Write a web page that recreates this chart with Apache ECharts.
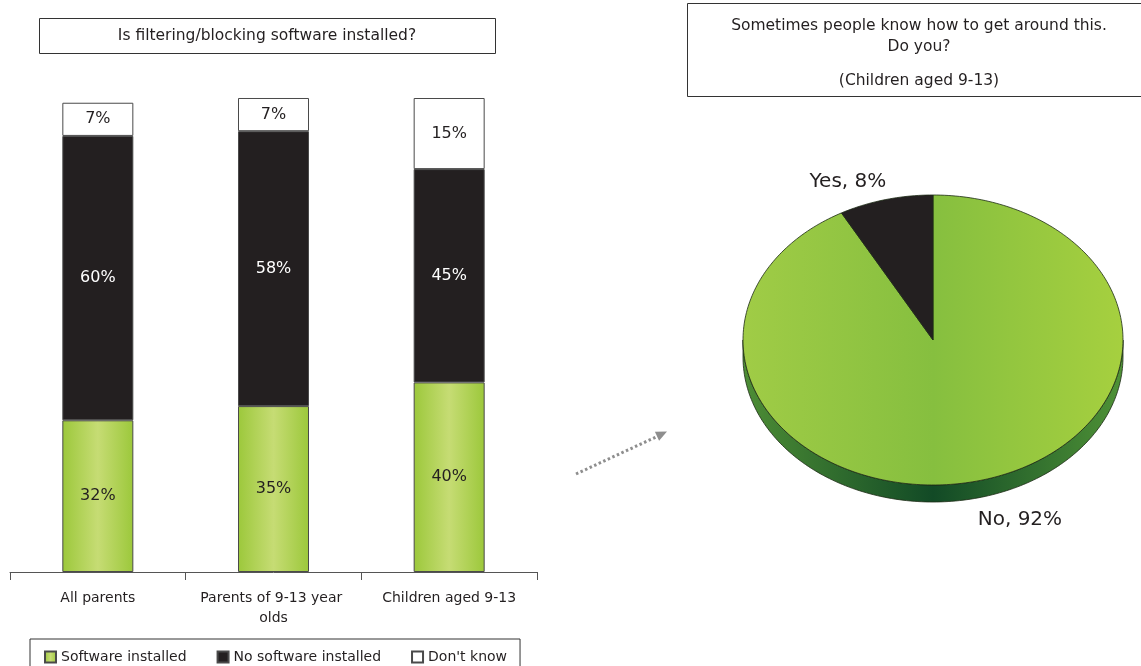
<!DOCTYPE html>
<html>
<head>
<meta charset="utf-8">
<script src="https://cdn.jsdelivr.net/npm/echarts@6/dist/echarts.min.js"></script>
<style>
  html, body { margin: 0; padding: 0; background: #fff; }
  #chart { width: 1141px; height: 666px; }
</style>
</head>
<body>
<div id="chart"></div>
<script>
// Stacked bars: filtering/blocking software
const categories = ['All parents', 'Parents of 9-13 year olds', 'Children aged 9-13'];
const seriesNames = ['Software installed', 'No software installed', "Don't know"];
const softwareInstalled = [32, 35, 40];
const noSoftware = [60, 58, 45];
const dontKnow = [7, 7, 15];

// Pie: getting around the filter (children aged 9-13)
const pieNames = ['No', 'Yes'];
const pieValues = [92, 8];

const FONT = 'DejaVu Sans';
const INK = '#231f20';

const chart = echarts.init(document.getElementById('chart'), null, { renderer: 'canvas' });

// Bar fill: horizontal green sheen
const barGreen = new echarts.graphic.LinearGradient(0, 0, 1, 0, [
  { offset: 0, color: '#9cc83b' },
  { offset: 0.5, color: '#c6dc74' },
  { offset: 1, color: '#9cc83b' }
]);

// Tilted pie geometry
const PIE = { cx: 933, cy: 340, rx: 190, ry: 145, depth: 17 };
const pieTotal = pieValues.reduce((a, b) => a + b, 0);
let running = 0;
const pieData = pieValues.map((v, i) => {
  const item = { name: pieNames[i], value: [v, running] };
  running += v;
  return item;
});

const faceGrad = new echarts.graphic.LinearGradient(PIE.cx - PIE.rx, 0, PIE.cx + PIE.rx, 0, [
  { offset: 0, color: '#a0cc46' },
  { offset: 0.5, color: '#86bf3f' },
  { offset: 1, color: '#a6d03f' }
], true);
const wallGrad = new echarts.graphic.LinearGradient(PIE.cx - PIE.rx, 0, PIE.cx + PIE.rx, 0, [
  { offset: 0, color: '#4d8d35' },
  { offset: 0.5, color: '#124a26' },
  { offset: 1, color: '#4f9236' }
], true);
const sliceFills = [faceGrad, '#231f20'];

function ellipsePt(a, dy) {
  return [PIE.cx + PIE.rx * Math.cos(a), PIE.cy + PIE.ry * Math.sin(a) + (dy || 0)];
}
function arcPts(a0, a1, dy) {
  const n = Math.max(2, Math.ceil(Math.abs(a1 - a0) / 0.02));
  const pts = [];
  for (let k = 0; k <= n; k++) pts.push(ellipsePt(a0 + (a1 - a0) * k / n, dy));
  return pts;
}

function renderSlice(params, api) {
  const v = api.value(0);
  const s = api.value(1);
  const a0 = -Math.PI / 2 + s / pieTotal * 2 * Math.PI;
  const a1 = a0 + v / pieTotal * 2 * Math.PI;
  const children = [];
  // outer wall, only where the rim faces the viewer
  [0, 2 * Math.PI].forEach(base => {
    const w0 = Math.max(a0, base), w1 = Math.min(a1, base + Math.PI);
    if (w1 > w0) {
      const pts = arcPts(w0, w1, 0).concat(arcPts(w1, w0, PIE.depth));
      children.push({
        type: 'polygon', shape: { points: pts },
        style: { fill: wallGrad, stroke: '#1d2b15', lineWidth: 0.8 }
      });
    }
  });
  // top face
  const face = [[PIE.cx, PIE.cy]].concat(arcPts(a0, a1, 0));
  children.push({
    type: 'polygon', shape: { points: face },
    style: { fill: sliceFills[params.dataIndex], stroke: '#1d2b15', lineWidth: 0.8 }
  });
  // outside label
  const m = (a0 + a1) / 2;
  const c = Math.cos(m), sn = Math.sin(m);
  const p = ellipsePt(m, sn > 0 ? PIE.depth : 0);
  children.push({
    type: 'text',
    x: p[0] + c * 10 + (c < 0 ? 3 : -5),
    y: p[1] + sn * 10 + (sn < 0 ? 2 : 3),
    style: {
      text: pieNames[params.dataIndex] + ', ' + v + '%',
      fontFamily: FONT, fontSize: 20, fill: INK,
      align: c < 0 ? 'right' : 'left',
      verticalAlign: sn < 0 ? 'bottom' : 'top'
    }
  });
  return { type: 'group', children };
}

function barSeries(name, data, fill, labelColor) {
  return {
    name, type: 'bar', stack: 'total', data,
    barWidth: 71,
    itemStyle: { color: fill, borderColor: '#4a4a4a', borderWidth: 1 },
    label: {
      show: true, position: 'inside', formatter: '{c}%',
      fontFamily: FONT, fontSize: 16, color: labelColor
    }
  };
}

const option = {
  animation: false,
  textStyle: { fontFamily: FONT },
  grid: { left: 10, right: 604, top: 98, bottom: 94 },
  xAxis: {
    type: 'category', data: categories,
    axisLine: { lineStyle: { color: '#555', width: 1 } },
    axisTick: { show: true, length: 8, lineStyle: { color: '#555' } },
    axisLabel: {
      interval: 0, margin: 16, fontSize: 14, color: INK, lineHeight: 20,
      width: 165, overflow: 'break', fontFamily: FONT
    }
  },
  yAxis: { type: 'value', min: 0, max: 100, show: false },
  legend: {
    data: seriesNames,
    left: 30, top: 639,
    padding: [11, 13, 13, 14],
    itemGap: 30, itemWidth: 11, itemHeight: 11,
    borderColor: '#333', borderWidth: 1,
    icon: 'rect',
    textStyle: { fontFamily: FONT, fontSize: 14, color: INK }
  },
  series: [
    barSeries(seriesNames[0], softwareInstalled, barGreen, INK),
    barSeries(seriesNames[1], noSoftware, '#231f20', '#ffffff'),
    barSeries(seriesNames[2], dontKnow, '#ffffff', INK),
    {
      type: 'custom', coordinateSystem: 'none', name: 'pie',
      data: pieData, renderItem: renderSlice, silent: true
    }
  ],
  graphic: [
    {
      type: 'rect', shape: { x: 39.5, y: 18.5, width: 456, height: 35 },
      style: { fill: '#fff', stroke: '#333', lineWidth: 1 }
    },
    {
      type: 'text', x: 267, y: 36,
      style: { text: 'Is filtering/blocking software installed?', fontFamily: FONT, fontSize: 15.5, fill: INK, align: 'center', verticalAlign: 'middle' }
    },
    {
      type: 'rect', shape: { x: 687.5, y: 3.5, width: 462, height: 93 },
      style: { fill: '#fff', stroke: '#333', lineWidth: 1 }
    },
    {
      type: 'text', x: 919, y: 26,
      style: { text: 'Sometimes people know how to get around this.', fontFamily: FONT, fontSize: 15.5, fill: INK, align: 'center', verticalAlign: 'middle' }
    },
    {
      type: 'text', x: 919, y: 47,
      style: { text: 'Do you?', fontFamily: FONT, fontSize: 15.5, fill: INK, align: 'center', verticalAlign: 'middle' }
    },
    {
      type: 'text', x: 919, y: 81,
      style: { text: '(Children aged 9-13)', fontFamily: FONT, fontSize: 15.5, fill: INK, align: 'center', verticalAlign: 'middle' }
    },
    // dotted pointer from the bars to the pie
    {
      type: 'line', shape: { x1: 576, y1: 474, x2: 656, y2: 437 },
      style: { stroke: '#8e8e8e', lineWidth: 3, lineDash: [2.5, 2.5] }
    },
    {
      type: 'polygon', shape: { points: [[667, 431.5], [654.9, 431.7], [659.1, 440.7]] },
      style: { fill: '#8e8e8e' }
    }
  ]
};

chart.setOption(option);
</script>
</body>
</html>
